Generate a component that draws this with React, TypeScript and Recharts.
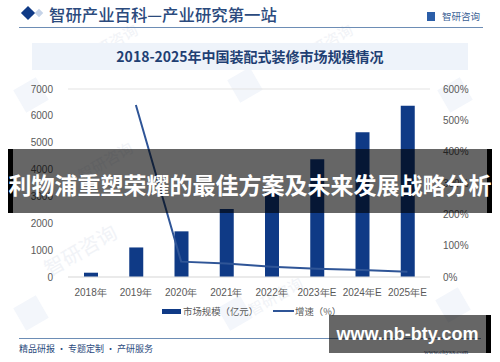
import { ComposedChart, Bar, Line, XAxis, YAxis, CartesianGrid } from "recharts";

const years = ["2018年", "2019年", "2020年", "2021年", "2022年", "2023年E", "2024年E", "2025年E"];
const marketSize = [160, 1100, 1700, 2530, 3150, 4380, 5390, 6380];
const growth = [null, 549, 49, 43, 33, 26, 22, 17];
const leftTicks = [0, 1000, 2000, 3000, 4000, 5000, 6000, 7000];
const rightTicks = [0, 100, 200, 300, 400, 500, 600];
const watermarks = [
  { left: 80, top: 32, size: 15 },
  { left: 295, top: 32, size: 15 },
  { left: 40, top: 235, size: 20 },
  { left: 245, top: 285, size: 15 },
  { left: 75, top: 150, size: 15 },
];
const logoMarks = [
  { left: 18, top: 82 },
  { left: 232, top: 72 },
  { left: 442, top: 82 },
  { left: 18, top: 300 },
  { left: 222, top: 300 },
  { left: 440, top: 292 },
];

const data = years.map((year, i) => ({ year, size: marketSize[i], rate: growth[i] }));

const navy = "#0f3a86";
const lineBlue = "#2f5597";
const tickStyle = { fontSize: 10, fill: "#595959", fontFamily: "Liberation Sans" };
const cjk = '"Noto Sans CJK SC", sans-serif';

export default function App() {
  return (
    <div style={{ position: "absolute", left: 0, top: 0, width: 500, height: 362, background: "#fff", overflow: "hidden", fontFamily: cjk }}>
      {/* faint watermarks */}
      {logoMarks.map((m, i) => (
        <div key={i} style={{ position: "absolute", left: m.left, top: m.top, width: 26, height: 26, background: "#f3f6fb", transform: "rotate(-30deg)" }} />
      ))}
      {watermarks.map((m, i) => (
        <div key={i} style={{ position: "absolute", left: m.left, top: m.top, fontSize: m.size, color: "#f1f3f7", transform: "rotate(-30deg)", whiteSpace: "nowrap" }}>智研咨询</div>
      ))}

      {/* header */}
      <div style={{ position: "absolute", left: 23, top: 8, width: 10, height: 10, background: "#0f3a86", transform: "rotate(45deg)" }} />
      <div style={{ position: "absolute", left: 36, top: 10, width: 6, height: 6, background: "#c5d3e8", transform: "rotate(45deg)" }} />
      <div style={{ position: "absolute", left: 49, top: 2, fontSize: 16.4, lineHeight: "24px", color: "#2b4a7d", fontWeight: 500, whiteSpace: "nowrap" }}>智研产业百科—产业研究第一站</div>
      <div style={{ position: "absolute", left: 442, top: 9, fontSize: 9.5, lineHeight: "14px", color: "#3b5f95", whiteSpace: "nowrap" }}>智研咨询</div>
      <div style={{ position: "absolute", left: 427, top: 12, width: 8, height: 9, background: "#2b5ea8" }} />
      <div style={{ position: "absolute", left: 19, top: 27, width: 464, height: 1, background: "#6d8db5" }} />

      {/* title band */}
      <div style={{ position: "absolute", left: 32, top: 43, width: 436, height: 27, background: "#eef3fa", textAlign: "center", fontSize: 14, lineHeight: "27px", fontWeight: 700, color: "#1f3f73" }}>
        2018-2025年中国装配式装修市场规模情况
      </div>

      <ComposedChart
        width={500}
        height={310}
        data={data}
        margin={{ top: 89, right: 0, bottom: 0, left: 0 }}
        style={{ position: "absolute", left: 0, top: 0 }}
      >
        <CartesianGrid vertical={false} stroke="#e3e3e3" />
        <XAxis
          dataKey="year"
          height={33}
          tick={tickStyle}
          tickLine={false}
          axisLine={{ stroke: "#e3e3e3" }}
          interval={0}
          tickMargin={6}
        />
        <YAxis
          yAxisId="left"
          width={68}
          domain={[0, 7000]}
          ticks={leftTicks}
          tick={tickStyle}
          tickLine={false}
          axisLine={false}
          tickMargin={9}
        />
        <YAxis
          yAxisId="right"
          orientation="right"
          width={70}
          domain={[0, 600]}
          ticks={rightTicks}
          tickFormatter={(v: number) => `${v}%`}
          tick={tickStyle}
          tickLine={false}
          axisLine={false}
          tickMargin={7}
        />
        <Bar yAxisId="left" dataKey="size" fill={navy} barSize={14} isAnimationActive={false} />
        <Line yAxisId="right" dataKey="rate" stroke={lineBlue} strokeWidth={2} dot={false} connectNulls={false} isAnimationActive={false} />
      </ComposedChart>

      {/* legend */}
      <div style={{ position: "absolute", left: 162, top: 304, width: 220, height: 14, fontSize: 9.4, lineHeight: "14px", color: "#595959", whiteSpace: "nowrap" }}>
        <span style={{ position: "absolute", left: 0, top: 5, width: 19, height: 5, background: navy }} />
        <span style={{ position: "absolute", left: 21, top: 0 }}>市场规模（亿元）</span>
        <span style={{ position: "absolute", left: 111, top: 6, width: 21, height: 2, background: lineBlue }} />
        <span style={{ position: "absolute", left: 133, top: 0 }}>增速（%）</span>
      </div>

      {/* footer */}
      <div style={{ position: "absolute", left: 19, top: 338, width: 462, height: 1, background: "#6d8db5" }} />
      <div style={{ position: "absolute", left: 19, top: 342, fontSize: 9, lineHeight: "14px", color: "#2b4a7d", whiteSpace: "nowrap" }}>精品研报 · 专题定制 · 产研服务</div>
      <div style={{ position: "absolute", left: 424, top: 347, fontSize: 6.5, lineHeight: "10px", color: "#5a6f92", fontFamily: "Liberation Serif" }}>www.chyxx.com</div>

      {/* site overlays */}
      <div style={{ position: "absolute", left: 8, top: 149, width: 484, height: 64, background: "rgba(0,0,0,0.6)", borderLeft: "5px solid #000", borderRight: "5px solid #000", boxSizing: "border-box" }} />
      <div style={{ position: "absolute", left: 0, top: 149, width: 500, height: 64, textAlign: "center", color: "#fff", fontSize: 23, lineHeight: "70px", fontWeight: 700, whiteSpace: "nowrap" }}>
        利物浦重塑荣耀的最佳方案及未来发展战略分析
      </div>
      <div style={{ position: "absolute", left: 329, top: 315, width: 162, height: 38, background: "rgba(0,0,0,0.6)", borderRight: "5px solid #000", boxSizing: "border-box", textAlign: "center", color: "#fff", fontSize: 18, lineHeight: "38px", fontWeight: 700, fontFamily: "Liberation Sans" }}>
        www.nb-bty.com
      </div>
    </div>
  );
}
